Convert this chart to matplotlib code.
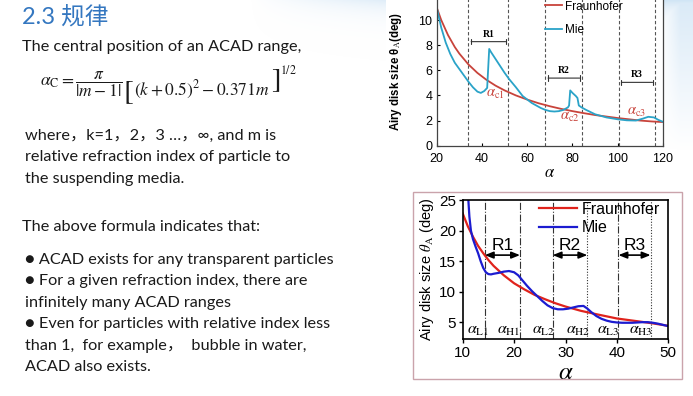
import numpy as np
import matplotlib.pyplot as plt
from matplotlib.patches import Rectangle

W, H = 693, 396

# ---- top chart (bubble, m < 1) ----
top_fr_alpha = [20, 22, 25, 28, 30, 34, 38, 42, 46, 50, 55, 60, 65, 70, 75,
                80, 85, 90, 95, 100, 105, 110, 115, 120]
top_fr_val = [11.0, 10.0, 8.8, 7.85, 7.33, 6.47, 5.79, 5.24, 4.78, 4.4, 4.0,
              3.67, 3.38, 3.14, 2.93, 2.75, 2.59, 2.44, 2.32, 2.2, 2.1, 2.0,
              1.93, 1.88]
top_mie_alpha = [20, 22, 24, 26, 28, 30, 32, 34, 36, 38, 39.5, 41, 42.3, 43.2,
                 44, 46, 48, 50, 52, 55, 58, 62, 66, 68, 70, 72, 74, 76, 78,
                 78.5, 79, 80, 81.5, 82.2, 82.8, 84, 86, 90, 95, 100, 104, 108,
                 111, 113.5, 116, 118, 120]
top_mie_val = [11.0, 9.4, 8.2, 7.3, 6.6, 6.1, 5.6, 5.1, 4.65, 4.3, 4.2, 4.35,
               4.6, 7.7, 7.45, 6.9, 6.35, 5.8, 5.3, 4.65, 3.95, 3.4, 3.0, 2.85,
               2.75, 2.72, 2.75, 2.85, 3.05, 3.2, 4.4, 4.2, 3.95, 3.8, 3.2, 3.05,
               2.85, 2.5, 2.25, 2.1, 2.02, 2.0, 2.15, 2.3, 2.25, 2.05, 1.9]
top_bounds = [34.0, 51.7, 68.0, 84.4, 100.4, 116.6]
top_ranges = ["R1", "R2", "R3"]
top_arrow_y = [8.28, 5.38, 5.04]
top_ac_labels = [r"$\alpha_{\rm c1}$", r"$\alpha_{\rm c2}$", r"$\alpha_{\rm c3}$"]
top_ac_pos = [(45.7, 4.17), (78.8, 2.3), (108.2, 2.75)]

# ---- bottom chart ----
bot_fr_alpha = [10, 11, 12, 13, 14, 15, 16, 18, 20, 22, 24, 26, 28, 30, 33,
                36, 40, 44, 47, 50]
bot_fr_val = [22.8, 20.7, 19.0, 17.5, 16.3, 15.2, 14.25, 12.7, 11.4, 10.4, 9.5,
              8.8, 8.15, 7.6, 6.9, 6.35, 5.65, 5.2, 4.85, 4.45]
bot_mie_alpha = [10.9, 11.1, 11.3, 11.6, 12.0, 12.5, 13.0, 13.5, 14.0, 14.5,
                 15.0, 15.5, 16.0, 17.0, 18.0, 19.0, 20.0, 20.8, 21.5, 22.5,
                 23.5, 24.5, 25.5, 26.5, 27.5, 28.5, 29.5, 30.5, 31.5, 32.5,
                 33.5, 34.2, 35, 36, 37, 38, 39, 40, 41, 42, 43, 44, 45, 46,
                 47, 48, 49, 50]
bot_mie_val = [27.0, 25.0, 22.3, 20.0, 18.6, 17.4, 16.3, 15.0, 13.9, 13.2,
               12.9, 12.85, 12.95, 13.1, 13.3, 13.4, 13.2, 12.7, 12.0, 11.0,
               10.1, 9.3, 8.5, 7.8, 7.35, 7.15, 7.15, 7.25, 7.45, 7.65, 7.7,
               7.3, 6.7, 6.05, 5.6, 5.3, 5.1, 5.0, 4.95, 4.95, 4.95, 5.0, 5.05,
               5.05, 4.95, 4.8, 4.6, 4.4]
bot_low = [14.3, 27.5, 40.3]
bot_high = [21.15, 34.25, 46.55]
bot_ranges = ["R1", "R2", "R3"]
bot_low_labels = [r"$\alpha_{\rm L1}$", r"$\alpha_{\rm L2}$", r"$\alpha_{\rm L3}$"]
bot_high_labels = [r"$\alpha_{\rm H1}$", r"$\alpha_{\rm H2}$", r"$\alpha_{\rm H3}$"]
bot_low_lx = [12.9, 25.8, 38.3]
bot_high_lx = [18.9, 32.5, 44.6]

body_lines = [
    ("The central position of an ACAD range,", 22, 51),
    ("where，k=1，2，3 …，∞, and m is", 25, 140),
    ("relative refraction index of particle to", 25, 161),
    ("the suspending media.", 25, 182.5),
    ("The above formula indicates that:", 22, 231.5),
    ("● ACAD exists for any transparent particles", 25, 264),
    ("● For a given refraction index, there are", 25, 285),
    ("infinitely many ACAD ranges", 25, 306.5),
    ("● Even for particles with relative index less", 25, 328),
    ("than 1,  for example，  bubble in water,", 25, 350),
    ("ACAD also exists.", 25, 371),
]

# formula pieces: text, font size, vertical centre (px), gap before (px)
formula_parts = [
    (r"$\alpha_{\rm C} = \dfrac{\pi}{|m-1|}$", 12.5, 84, 0),
    (r"$[$", 21, 92, 0),
    (r"$(k+0.5)^2-0.371m$", 12.5, 90, 1),
    (r"$]$", 21, 80, 1),
    (r"$1/2$", 8.5, 71, 0),
]


def fx(x):
    return x / W


def fy(y):
    return 1 - y / H


def main():
    plt.rcParams['mathtext.fontset'] = 'stix'
    sans = ['Liberation Sans', 'DejaVu Sans']
    body = ['Lato', 'Noto Sans CJK SC', 'DejaVu Sans']

    fig = plt.figure(figsize=(W / 100, H / 100), dpi=100)
    rend = fig.canvas.get_renderer()

    # slide background, light blue sweep at the top right
    bg = fig.add_axes([0, 0, 1, 1], zorder=-10)
    yy, xx = np.mgrid[0:H, 0:W]
    a = np.clip(np.exp(-yy / 12.0) * np.clip((xx - 250) / 200, 0, 1), 0, 1)
    a = np.maximum(a, np.clip((xx - 660) / 20, 0, 1) * np.clip(1 - yy / 150, 0, 1) * 0.8)
    img = np.zeros((H, W, 4))
    img[..., 0], img[..., 1], img[..., 2] = 0.80, 0.89, 0.96
    img[..., 3] = a * 0.9
    bg.imshow(img, extent=[0, W, H, 0], aspect='auto')
    bg.set_xlim(0, W)
    bg.set_ylim(H, 0)
    bg.axis('off')

    fig.add_artist(Rectangle((fx(386), fy(186)), (664 - 386) / W, 186 / H,
                             transform=fig.transFigure, facecolor='white',
                             edgecolor='none', zorder=-5))
    fig.add_artist(Rectangle((fx(412.7), fy(379.3)), 269 / W, (379.3 - 191.7) / H,
                             transform=fig.transFigure, facecolor='white',
                             edgecolor='#caa3ab', lw=1, zorder=-5))

    # left text
    fig.text(fx(22), fy(24), "2.3 规律", family=body, fontsize=17,
             color='#3477c0', va='baseline')
    for txt, x, y in body_lines:
        fig.text(fx(x), fy(y), txt, family=body, fontsize=11.7,
                 color='#1a1a1a', va='baseline')
    x = 40
    for txt, size, yc, gap in formula_parts:
        t = fig.text(fx(x + gap), fy(yc), txt, fontsize=size, va='center',
                     color='#1a1a1a')
        x = t.get_window_extent(rend).x1

    # ---- top chart ----
    ax1 = fig.add_axes([fx(436.7), fy(145.7), 226.3 / W, 150.8 / H])
    for xb in top_bounds:
        ax1.axvline(xb, color='#555555', lw=0.8, ls=(0, (3, 2)))
    ax1.plot(top_fr_alpha, top_fr_val, color='#c8433b', lw=1.3, label='Fraunhofer')
    ax1.plot(top_mie_alpha, top_mie_val, color='#2aa3c8', lw=1.3, label='Mie')
    for i, name in enumerate(top_ranges):
        x0, x1 = top_bounds[2 * i], top_bounds[2 * i + 1]
        ax1.annotate('', xy=(x0, top_arrow_y[i]), xytext=(x1, top_arrow_y[i]),
                     arrowprops=dict(arrowstyle='|-|,widthA=0.2,widthB=0.2',
                                     color='#333333', lw=0.8))
        ax1.text((x0 + x1) / 2, top_arrow_y[i] + 0.25, name, ha='center',
                 va='bottom', fontsize=7, fontweight='bold', family='Liberation Serif')
    for lab, (x, y) in zip(top_ac_labels, top_ac_pos):
        ax1.text(x, y, lab, color='#c8433b', fontsize=10.5, ha='center', va='center')
    ax1.set_xlim(20, 120)
    ax1.set_ylim(0, 12)
    ax1.set_xticks([20, 40, 60, 80, 100, 120])
    ax1.set_yticks([0, 2, 4, 6, 8, 10])
    ax1.tick_params(direction='in', length=2, labelsize=9)
    ax1.tick_params(axis='x', pad=5)
    ax1.tick_params(axis='y', pad=3)
    for lab in ax1.get_xticklabels() + ax1.get_yticklabels():
        lab.set_family(sans)
    for s in ax1.spines.values():
        s.set_color('#444444')
        s.set_linewidth(0.9)
    ax1.set_xlabel(r"$\alpha$", fontsize=12, labelpad=-1)
    ax1.set_ylabel(r"Airy disk size θ$_{\rm A}$(deg)", fontsize=8.3, fontweight='bold',
                   family=sans)
    ax1.yaxis.set_label_coords(-0.145, 0.49)
    ax1.legend(loc='upper left', bbox_to_anchor=(fx(545), fy(0.5)),
               bbox_transform=fig.transFigure, frameon=False,
               handlelength=1.4, handletextpad=0.3, labelspacing=0.95,
               borderpad=0, borderaxespad=0, prop={'family': sans, 'size': 8.5})

    # ---- bottom chart ----
    ax2 = fig.add_axes([fx(462.7), fy(339), 205.6 / W, 139 / H])
    for i in range(3):
        ax2.axvline(bot_low[i], color='#333333', lw=0.8, ls='-.')
        ax2.axvline(bot_high[i], color='#333333', lw=0.8,
                    ls='-.' if i == 0 else (0, (1, 1.5)))
    ax2.plot(bot_fr_alpha, bot_fr_val, color='#e0231c', lw=1.6, label='Fraunhofer')
    ax2.plot(bot_mie_alpha, bot_mie_val, color='#1c1cd0', lw=1.6, label='Mie')
    for i, name in enumerate(bot_ranges):
        ax2.annotate('', xy=(bot_low[i], 16.0), xytext=(bot_high[i], 16.0),
                     arrowprops=dict(arrowstyle='<|-|>,head_length=0.5,head_width=0.2',
                                     color='black', lw=1.2, shrinkA=0, shrinkB=0))
        ax2.text((bot_low[i] + bot_high[i]) / 2, 17.6, name, ha='center', va='center',
                 fontsize=12.5, family=sans)
        ax2.text(bot_low_lx[i], 3.75, bot_low_labels[i], ha='center', va='center',
                 fontsize=11.5)
        ax2.text(bot_high_lx[i], 3.75, bot_high_labels[i], ha='center', va='center',
                 fontsize=11.5)
    ax2.set_xlim(10, 50)
    ax2.set_ylim(2.3, 25)
    ax2.set_xticks([10, 20, 30, 40, 50])
    ax2.set_yticks([5, 10, 15, 20, 25])
    ax2.tick_params(direction='out', length=3, width=1, labelsize=11, pad=2)
    for lab in ax2.get_xticklabels() + ax2.get_yticklabels():
        lab.set_family(sans)
    for s in ax2.spines.values():
        s.set_linewidth(1.2)
    ax2.set_xlabel(r"$\alpha$", fontsize=18, labelpad=0)
    ax2.set_ylabel(r"Airy disk size $\theta_{\rm A}$ (deg)", fontsize=10.5,
                   family=sans, labelpad=2)
    ax2.legend(loc='upper left', bbox_to_anchor=(fx(539), fy(202)),
               bbox_transform=fig.transFigure, frameon=False,
               handlelength=2.4, handletextpad=0.3, labelspacing=0.2,
               borderpad=0, borderaxespad=0, prop={'family': sans, 'size': 11.5})

    fig.savefig("out.png", dpi=100)


if __name__ == "__main__":
    main()
